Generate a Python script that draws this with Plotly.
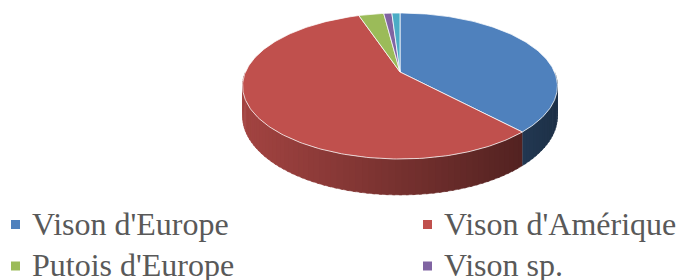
import numpy as np
import plotly.graph_objects as go

# ---- data ----
names = ["Vison d'Europe", "Vison d'Amérique", "Putois d'Europe", "Vison sp.", "Autre"]
values = [38.1, 56.8, 3.1, 1.0, 1.0]
colors = ["#4F81BD", "#C0504D", "#9BBB59", "#8064A2", "#4BACC6"]

# ---- geometry (pixel space; page body has an 8px margin) ----
W, Hh, OFF = 686, 280, 8
CX, CY, A, B, K, DEPTH = 400, 72, 154.5, 70.3, 0.192, 29


def proj(theta_deg):
    th = np.radians(theta_deg)
    u, v = np.sin(th), -np.cos(th)
    f = 1.0 / (1.0 - K * v)
    return CX + A * u * f, CY + B * v * f, f


def hex2rgb(h):
    h = h.lstrip("#")
    return [int(h[i:i + 2], 16) for i in (0, 2, 4)]


def shade(h, s):
    r, g, b = hex2rgb(h)
    return "rgb(%d,%d,%d)" % (r * s, g * s, b * s)


fig = go.Figure()
total = sum(values)
bounds = np.concatenate([[0], np.cumsum(values) / total * 360.0])

# sides (front half only, angles 90..270), shaded left-to-right
for i, c in enumerate(colors):
    a0, a1 = max(bounds[i], 90), min(bounds[i + 1], 270)
    if a1 <= a0:
        continue
    n = max(2, int((a1 - a0) / 2) + 1)
    ts = np.linspace(a0, a1, n)
    for j in range(len(ts) - 1):
        hi = min(ts[j + 1] + 0.8, a1)
        tt = np.linspace(ts[j], hi, 3)
        x, y, f = proj(tt)
        xs = list(x) + list(x[::-1])
        ys = list(y) + list((y + DEPTH * f)[::-1])
        xm = float(np.mean(x))
        s = 0.85 - 0.47 * (xm - 243) / 314
        col = shade(c, s)
        fig.add_trace(go.Scatter(x=xs, y=ys, fill="toself", fillcolor=col, mode="lines",
                                 line=dict(color=col, width=0.5), hoverinfo="skip", showlegend=False))

# top faces
for i, c in enumerate(colors):
    ts = np.linspace(bounds[i], bounds[i + 1], max(3, int(bounds[i + 1] - bounds[i]) + 2))
    x, y, f = proj(ts)
    xs = [CX] + list(x) + [CX]
    ys = [CY] + list(y) + [CY]
    fig.add_trace(go.Scatter(x=xs, y=ys, fill="toself", fillcolor=c, mode="lines",
                             line=dict(color="rgba(255,255,255,0.75)", width=1),
                             hoverinfo="skip", showlegend=False))

# ---- legend (2 columns) ----
shapes = []
annotations = []
for i, (nm, c) in enumerate(zip(names, colors)):
    row, col = divmod(i, 2)
    x0 = 11 if col == 0 else 423
    yc = 224.5 + row * 41.5
    shapes.append(dict(type="rect", xref="x", yref="y", x0=x0, x1=x0 + 9, y0=yc - 4.5, y1=yc + 4.5,
                       fillcolor=c, line=dict(width=0)))
    annotations.append(dict(x=x0 + 19, y=yc - 1, xref="x", yref="y", text=nm, showarrow=False,
                            xanchor="left", yanchor="middle",
                            font=dict(family="Liberation Serif", size=32, color="#595959")))

fig.update_layout(
    width=W - OFF, height=Hh - OFF, margin=dict(l=0, r=0, t=0, b=0),
    paper_bgcolor="white", plot_bgcolor="white",
    xaxis=dict(range=[OFF, W], visible=False, fixedrange=True),
    yaxis=dict(range=[Hh, OFF], visible=False, fixedrange=True),
    shapes=shapes, annotations=annotations, showlegend=False,
)
fig.write_html("out.html")
